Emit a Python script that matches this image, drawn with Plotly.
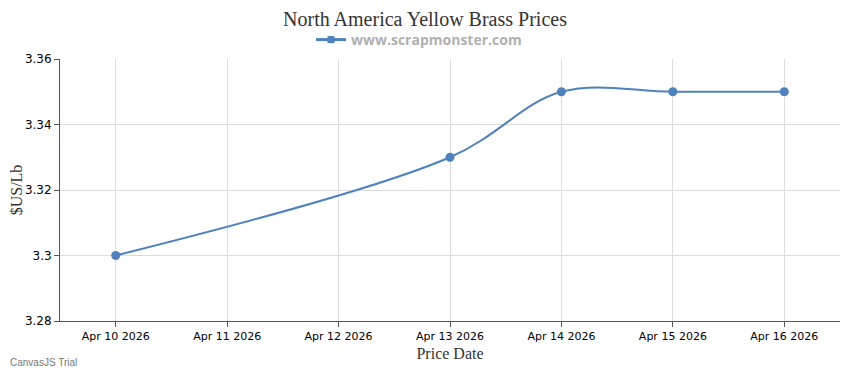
import plotly.graph_objects as go

dates = ["2026-04-10", "2026-04-13", "2026-04-14", "2026-04-15", "2026-04-16"]
prices = [3.30, 3.33, 3.35, 3.35, 3.35]
tick_dates = ["2026-04-10", "2026-04-11", "2026-04-12", "2026-04-13", "2026-04-14", "2026-04-15", "2026-04-16"]
tick_labels = ["Apr 10 2026", "Apr 11 2026", "Apr 12 2026", "Apr 13 2026", "Apr 14 2026", "Apr 15 2026", "Apr 16 2026"]
y_ticks = [3.28, 3.30, 3.32, 3.34, 3.36]

color = "#4f81bc"

# The page body has an 8px margin, so the figure is drawn at (8, 8).
W, H = 842, 362

fig = go.Figure()
fig.add_trace(go.Scatter(
    x=dates, y=prices, mode="lines+markers",
    name="www.scrapmonster.com", showlegend=False,
    line=dict(color=color, width=2, shape="spline", smoothing=1.0),
    marker=dict(color=color, size=9, symbol="circle"),
))
# legend entry (CanvasJS style: short line with square marker)
fig.add_trace(go.Scatter(
    x=[None], y=[None], mode="lines+markers",
    name="www.scrapmonster.com", showlegend=True,
    line=dict(color=color, width=3),
    marker=dict(color=color, size=7, symbol="square"),
))

fig.update_layout(
    width=W, height=H,
    margin=dict(l=52, r=10, t=51, b=49, autoexpand=False),
    paper_bgcolor="white", plot_bgcolor="white",
    title=dict(text="North America Yellow Brass Prices", x=417 / W, xanchor="center", xref="container",
               y=1 - 11 / H, yanchor="middle", yref="container",
               font=dict(family="Liberation Serif, Times New Roman, serif", size=20, color="#333333")),
    showlegend=True,
    legend=dict(orientation="h", x=411 / W, xanchor="center", xref="container",
                y=1 - 32 / H, yanchor="middle", yref="container",
                font=dict(family="Open Sans, DejaVu Sans, sans-serif", size=14, color="#b0b0b0", weight="bold"),
                itemwidth=30, bgcolor="rgba(0,0,0,0)"),
    xaxis=dict(
        type="date", range=["2026-04-09 12:00", "2026-04-16 12:00"], automargin=False,
        tickvals=tick_dates, ticktext=tick_labels,
        showgrid=True, gridcolor="#dcdcdc", gridwidth=1,
        showline=True, linecolor="#555555", linewidth=1,
        ticks="outside", ticklen=5, tickcolor="#555555",
        tickfont=dict(family="DejaVu Sans, Tahoma, sans-serif", size=11, color="#000000"),
        title=dict(text="Price Date", standoff=5,
                   font=dict(family="Liberation Serif, Times New Roman, serif", size=16, color="#333333")),
        zeroline=False,
    ),
    yaxis=dict(
        range=[3.28, 3.36], tickvals=y_ticks, automargin=False,
        showgrid=True, gridcolor="#dcdcdc", gridwidth=1,
        showline=True, linecolor="#555555", linewidth=1,
        ticks="outside", ticklen=5, tickcolor="#555555",
        tickfont=dict(family="DejaVu Sans, Tahoma, sans-serif", size=12, color="#000000"),
        title=dict(text="$US/Lb", standoff=4,
                   font=dict(family="Liberation Serif, Times New Roman, serif", size=16, color="#333333")),
        zeroline=False,
    ),
)

fig.add_annotation(text="CanvasJS Trial", xref="paper", yref="paper",
                   x=-52 / 780, xanchor="left", y=-41 / 262, yanchor="middle",
                   showarrow=False,
                   font=dict(family="Liberation Sans, Arial, sans-serif", size=10, color="#777777"))

fig.write_html("out.html")
